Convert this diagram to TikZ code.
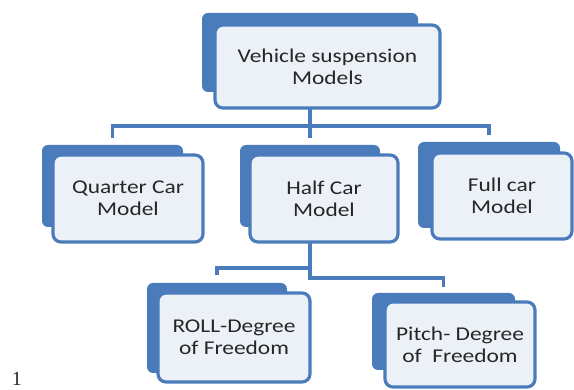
\documentclass[tikz,border=0pt]{standalone}
\usepackage{fontspec}
\setmainfont{Carlito}[FakeStretch=1.2]
\newfontfamily\numfont{Liberation Serif}
\usetikzlibrary{calc}
\definecolor{CardBlue}{RGB}{74,124,187}
\definecolor{CardFace}{RGB}{236,241,248}
\definecolor{CardInk}{RGB}{38,38,38}

\begin{document}
\begin{tikzpicture}[x=1pt, y=-1pt,
    every node/.style={align=center},
    backcard/.style={fill=CardBlue, rounded corners=6pt, inner sep=0pt, outer sep=0pt},
    facecard/.style={draw=CardBlue, line width=3.2pt, fill=CardFace, rounded corners=8pt,
        inner sep=0pt, text=CardInk, font=\fontsize{19.5}{22}\selectfont},
    link/.style={draw=CardBlue, line width=3.5pt}]
  \useasboundingbox (0,0) rectangle (574,390);
  % back cards
  \node[backcard, minimum width=216, minimum height=79] (vsmB) at (310,52.5) {};
  \node[backcard, minimum width=141, minimum height=82] (qcmB) at (112.5,186) {};
  \node[backcard, minimum width=140, minimum height=82] (hcmB) at (310,186) {};
  \node[backcard, minimum width=142, minimum height=86] (fcmB) at (489,185) {};
  \node[backcard, minimum width=140, minimum height=90] (rdfB) at (217,328) {};
  \node[backcard, minimum width=143, minimum height=77] (pdfB) at (443.5,331.5) {};
  % connectors
  \coordinate (busA) at (0,126);
  \coordinate (busB) at (0,268);
  \coordinate (busC) at (0,278);
  \foreach \c in {qcmB,fcmB}
    \draw[link, shorten >=7pt] (vsmB.south) -- (vsmB.south |- busA) -| (\c.north);
  \draw[link, shorten >=7pt] (vsmB.south) -- (hcmB.north);
  \draw[link, shorten >=8pt] (hcmB.south) -- (hcmB.south |- busB) -| (rdfB.north);
  \draw[link, shorten >=6pt] (hcmB.south) -- (hcmB.south |- busC) -| (pdfB.north);
  % front cards
  \node[facecard, minimum width=225, minimum height=83] (vsm) at (327.5,66.5) {Vehicle suspension\\Models};
  \node[facecard, minimum width=150, minimum height=87] (qcm) at (128,198.5) {Quarter Car\\Model};
  \node[facecard, minimum width=148, minimum height=87] (hcm) at (324,198.5) {Half Car\\Model};
  \node[facecard, minimum width=140, minimum height=86] (fcm) at (502,196) {Full car\\Model};
  \node[facecard, minimum width=152, minimum height=89] (rdf) at (234,337.5) {ROLL-Degree\\of Freedom};
  \node[facecard, minimum width=150, minimum height=85] (pdf) at (460,344.5) {Pitch- Degree\\of~\ Freedom};
  \node[font=\numfont\fontsize{20}{22}\selectfont, text=CardInk, anchor=base, inner sep=1pt] (fig) at (17,386) {1};
\end{tikzpicture}
\end{document}
